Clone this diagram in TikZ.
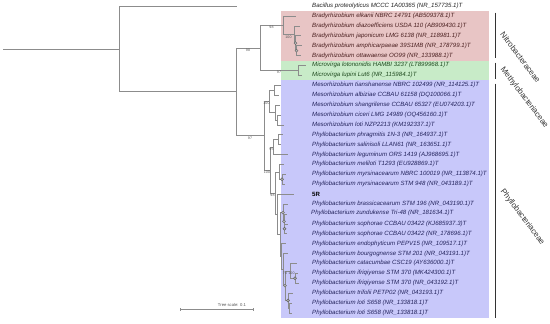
\documentclass[tikz,border=0pt]{standalone}
\usepackage{fontspec}
\setmainfont{Liberation Sans}
\definecolor{nitro-fill}{HTML}{E8C5C5}
\definecolor{methyl-fill}{HTML}{C8EBC8}
\definecolor{phyllo-fill}{HTML}{C8C8FA}
\definecolor{out-text}{HTML}{222222}
\definecolor{nitro-text}{HTML}{4A1F1F}
\definecolor{methyl-text}{HTML}{1F4A1F}
\definecolor{phyllo-text}{HTML}{23235C}
\definecolor{branch-col}{HTML}{8C8C8C}
\definecolor{boot-col}{HTML}{555555}
\definecolor{bar-col}{HTML}{333333}
\tikzset{
  branch/.style={draw=branch-col, line width=0.6pt},
  leaf/.style={anchor=west, inner sep=0pt, font=\fontsize{6.1}{7}\selectfont\itshape},
  boot/.style={anchor=north, inner sep=0.3pt, font=\fontsize{3.6}{4}\selectfont, text=boot-col},
  nodedot/.style={circle, draw=branch-col!70!black, fill=branch-col!60, inner sep=0pt, minimum size=3pt},
  fam/.style={anchor=west, rotate=-53, inner sep=0pt, font=\fontsize{8}{9}\selectfont, text=bar-col},
  fam-bar/.style={draw=bar-col, line width=0.9pt}
}
\begin{document}
\begin{tikzpicture}[x=1pt, y=-1pt]
  \useasboundingbox (0,0) rectangle (550,324);

  % ---- Family boxes --------------------------------------------------------
  \fill[nitro-fill]  (281,11)   rectangle (489,60.5);
  \fill[methyl-fill] (281,60.5) rectangle (489,80.3);
  \fill[phyllo-fill] (281,80.3) rectangle (489,318);

  % ---- Leaf tips (one row every 9.9) ---------------------------------------
  \foreach \i/\tx in {0/237, 1/296, 2/300, 3/301, 4/302, 5/301, 6/306, 7/302,
      8/281, 9/279, 10/280, 11/281, 12/284, 13/283, 14/281, 15/288, 16/284,
      17/286, 18/285, 19/294, 20/288, 21/287, 22/288, 23/287, 24/286, 25/288,
      26/297, 27/298, 28/299, 29/293, 30/292, 31/292}
    \coordinate (t\i) at (\tx, {6+9.9*\i});

  % ---- Inner nodes ---------------------------------------------------------
  \coordinate (stem) at (3, 48.9);
  \coordinate (root) at (119, 48.9);
  \coordinate (B)  at (236, 91.75);
  \coordinate (C)  at (260, 47.8);
  \coordinate (D)  at (283, 25.2);
  \coordinate (E)  at (294, 34.45);
  \coordinate (E1) at (295.5, 43.1);
  \coordinate (E2) at (296.5, 50.55);
  \coordinate (M)  at (298, 70.35);
  \coordinate (F)  at (264, 135.7);
  \coordinate (G)  at (269, 101.3);
  \coordinate (G1) at (274, 90.15);
  \coordinate (G2) at (275, 112.4);
  \coordinate (G3) at (277, 119.85);
  \coordinate (H)  at (270, 170.1);
  \coordinate (I)  at (273, 147.1);
  \coordinate (I1) at (278, 139.65);
  \coordinate (J)  at (275, 193.1);
  \coordinate (K)  at (279, 171.8);
  \coordinate (K1) at (282, 179.25);
  \coordinate (L)  at (277, 214.35);
  \coordinate (L1) at (280, 234.6);
  \coordinate (Sc) at (283, 212.65);
  \coordinate (Sb) at (284, 221.3);
  \coordinate (Sa) at (284.5, 228.75);
  \coordinate (R2) at (281.5, 256.6);
  \coordinate (R)  at (283, 269.6);
  \coordinate (QT) at (285, 285.65);
  \coordinate (Q)  at (290, 270.8);
  \coordinate (Q1) at (295, 278.25);
  \coordinate (T)  at (288, 300.5);
  \coordinate (T1) at (289, 307.95);

  % ---- Branches ------------------------------------------------------------
  \draw[branch] (stem) -- (root);
  \foreach \p/\c in {root/t0, root/B, B/C, B/F, C/D, C/M, D/t1, D/E, E/t2,
      E/E1, E1/t3, E1/E2, E2/t4, E2/t5, M/t6, M/t7, F/G, F/H, G/G1, G/G2,
      G1/t8, G1/t9, G2/t10, G2/G3, G3/t11, G3/t12, H/I, H/J, I/I1, I/t15,
      I1/t13, I1/t14, J/K, J/L, K/t16, K/K1, K1/t17, K1/t18, L/t19, L/L1,
      L1/Sc, L1/R2, Sc/t20, Sc/Sb, Sb/t21, Sb/Sa, Sa/t22, Sa/t23, R2/t24,
      R2/R, R/t25, R/QT, QT/Q, QT/T, Q/t26, Q/Q1, Q1/t27, Q1/t28, T/t29,
      T/T1, T1/t30, T1/t31}
    \draw[branch] (\p) |- (\c);

  % ---- Support symbols and values ------------------------------------------
  \foreach \n in {E1, E2, K1, Sa, Sb, Sc, Q1, QT, T}
    \node[nodedot] (dot-\n) at (\n) {};
  \node[boot] (bs-bc) at (248, 48.3)   {98};
  \node[boot] (bs-cd) at (271.5, 25.7) {98};
  \node[boot] (bs-de) at (288.5, 35)   {100};
  \node[boot] (bs-cm) at (279, 70.9)   {97};
  \node[boot] (bs-bf) at (250, 136.2)  {97};
  \node[boot] (bs-fg) at (266.5, 101.8) {100};
  \node[boot] (bs-fh) at (267, 170.6)  {100};
  \node[boot] (bs-hi) at (271.5, 147.6) {95};
  \node[boot] (bs-hj) at (272.5, 193.6) {98};
  \node[boot, anchor=center] (bs-r)  at (285, 273) {70};
  \node[boot, anchor=center] (bs-q)  at (291.5, 273) {100};

  % ---- Leaf labels ---------------------------------------------------------
  \node[leaf, text=out-text] (l0) at (312, 6)
        {Bacillus proteolyticus MCCC 1A00365 (NR\_157735.1)T};
  \foreach \i/\name in {
      1/Bradyrhizobium elkanii NBRC 14791 (AB509378.1)T,
      2/Bradyrhizobium diazoefficiens USDA 110 (AB909430.1)T,
      3/Bradyrhizobium japonicum LMG 6138 (NR\_118981.1)T,
      4/Bradyrhizobium amphicarpaeae 39S1MB (NR\_178799.1)T,
      5/Bradyrhizobium ottawaense OO99 (NR\_133988.1)T}
    \node[leaf, text=nitro-text] (l\i) at (312, {6+9.9*\i}) {\name};
  \foreach \i/\name in {
      6/Microvirga lotononidis HAMBI 3237 (LT899968.1)T,
      7/Microvirga lupini Lut6 (NR\_115984.1)T}
    \node[leaf, text=methyl-text] (l\i) at (312, {6+9.9*\i}) {\name};
  \foreach \i/\name in {
      8/Mesorhizobium tianshanense NBRC 102499 (NR\_114125.1)T,
      9/Mesorhizobium albiziae CCBAU 61158 (DQ100066.1)T,
      10/Mesorhizobium shangrilense CCBAU 65327 (EU074203.1)T,
      11/Mesorhizobium ciceri LMG 14989 (OQ456160.1)T,
      12/Mesorhizobium loti NZP2213 (KM192337.1)T,
      13/Phyllobacterium phragmitis 1N-3 (NR\_164937.1)T,
      14/Phyllobacterium salinisoli LLAN61 (NR\_163651.1)T,
      15/Phyllobacterium leguminum ORS 1419 (AJ968695.1)T,
      16/Phyllobacterium meliloti T1293 (EU928869.1)T,
      17/Phyllobacterium myrsinacearum NBRC 100019 (NR\_113874.1)T,
      18/Phyllobacterium myrsinacearum STM 948 (NR\_043189.1)T,
      20/Phyllobacterium brassicacearum STM 196 (NR\_043190.1)T,
      22/Phyllobacterium sophorae CCBAU 03422 (KJ685937.3)T,
      23/Phyllobacterium sophorae CCBAU 03422 (NR\_178696.1)T,
      24/Phyllobacterium endophyticum PEPV15 (NR\_109517.1)T,
      25/Phyllobacterium bourgognense STM 201 (NR\_043191.1)T,
      26/Phyllobacterium catacumbae CSC19 (AY636000.1)T,
      27/Phyllobacterium ifriqiyense STM 370 (MK424300.1)T,
      28/Phyllobacterium ifriqiyense STM 370 (NR\_043192.1)T,
      29/Phyllobacterium trifolii PETP02 (NR\_043193.1)T,
      30/Phyllobacterium loti S658 (NR\_133818.1)T,
      31/Phyllobacterium loti S658 (NR\_133818.1)T}
    \node[leaf, text=phyllo-text] (l\i) at (312, {6+9.9*\i}) {\name};
  \node[leaf, text=phyllo-text] (l21) at (311, 212.9)
        {Phyllobacterium zundukense Tri-48 (NR\_181634.1)T};
  \node[leaf, font=\fontsize{6.1}{7}\selectfont\bfseries, text=black] (l19)
        at (312, 194.1) {5R};

  % ---- Family bars and names -----------------------------------------------
  \draw[fam-bar] (495, 12.5) -- (495, 58);
  \draw[fam-bar] (495, 62.5) -- (495, 78.5);
  \draw[fam-bar] (495, 83.5) -- (495, 318);
  \node[fam] (nitro)  at (502, 33)  {Nitrobacteraceae};
  \node[fam] (methyl) at (502, 68)  {Methylobacteriaceae};
  \node[fam] (phyllo) at (502, 190) {Phyllobacteriaceae};

  % ---- Tree scale ----------------------------------------------------------
  \coordinate (sc-a) at (180, 309.5);
  \coordinate (sc-b) at (253, 309.5);
  \draw[branch] (sc-a) -- (sc-b);
  \draw[branch] (180, 308) -- (180, 311) (253, 308) -- (253, 311);
  \node[boot, anchor=center, font=\fontsize{4.2}{5}\selectfont]
        (sc-lbl) at (232, 305.3) {Tree scale: 0.1};

\end{tikzpicture}
\end{document}
